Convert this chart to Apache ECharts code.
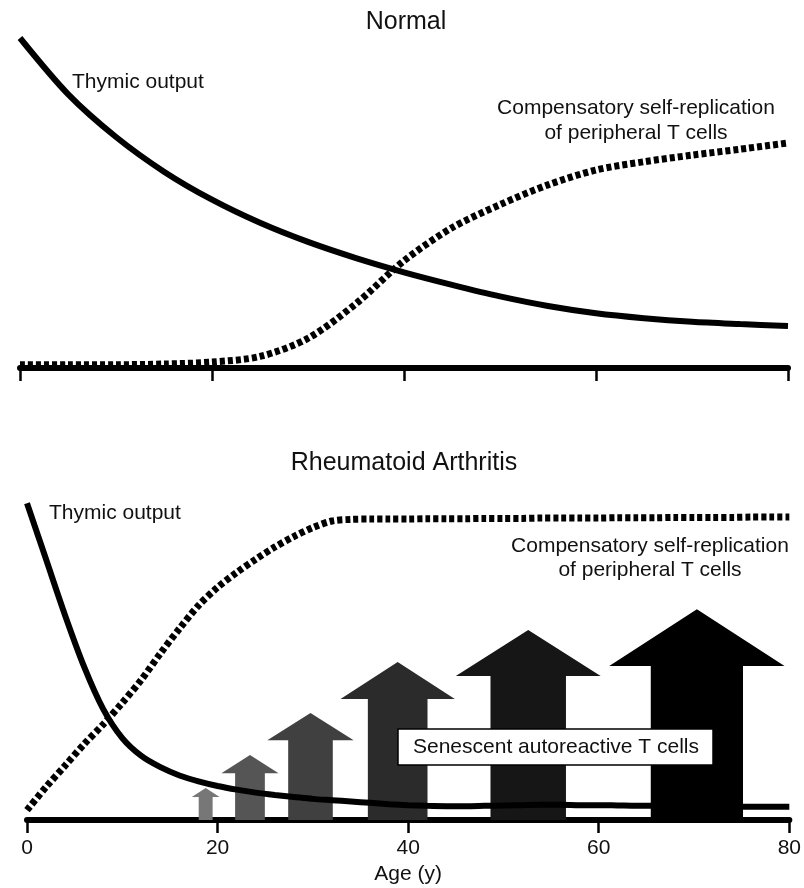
<!DOCTYPE html>
<html>
<head>
<meta charset="utf-8">
<script src="https://cdn.jsdelivr.net/npm/echarts@6/dist/echarts.min.js"></script>
<style>
  html, body { margin: 0; padding: 0; background: #fff; }
  #chart { width: 804px; height: 888px; }
</style>
</head>
<body>
<div id="chart"></div>
<script>
// ---- data (age in years, level in relative units 0-100) ----
const normalAge = [0, 5, 10, 15, 20, 25, 30, 35, 40, 45, 50, 55, 60, 65, 70, 75, 80];
const normalThymic = [100, 83, 70, 59.5, 51, 44, 38.2, 33.3, 29, 25.2, 21.7, 18.8, 16.6, 15.1, 14, 13.3, 12.7];
const normalReplication = [1, 1, 1, 1.2, 1.8, 3.5, 9, 19.5, 32.5, 42.5, 49.5, 55.5, 60, 62.5, 64.5, 66.3, 68.2];

const raAge = [0, 2, 4, 6, 8, 10, 12, 14, 16, 18, 20, 22, 24, 26, 28, 30, 32, 34, 36, 38, 40,
  42, 44, 46, 48, 50, 52, 54, 56, 58, 60, 62, 64, 66, 68, 70, 72, 74, 76, 78, 80];
const raThymic = [96, 79, 62, 46.4, 33.6, 24.8, 19.4, 16, 13.5, 11.7, 10.3, 9.2, 8.3, 7.6, 7, 6.4, 6, 5.6, 5.2, 4.8, 4.5,
  4.3, 4.2, 4.2, 4.3, 4.4, 4.5, 4.6, 4.6, 4.5, 4.5, 4.4, 4.3, 4.3, 4.2, 4.1, 4.1, 4, 4, 4, 4];
const raReplication = [3, 10, 16.5, 23, 29, 35.5, 42.5, 50.5, 58, 65, 70.5, 75, 79, 82.7, 85.9, 88.6, 90.6, 91.1, 91.2, 91.2, 91.2,
  91.3, 91.3, 91.3, 91.4, 91.4, 91.4, 91.5, 91.5, 91.5, 91.5, 91.6, 91.6, 91.6, 91.7, 91.7, 91.7, 91.7, 91.8, 91.8, 91.8];

// senescent autoreactive T cells (arrows): centre age, tip level, head base level
const arrowAge = [18.75, 23.4, 29.75, 38.9, 52.6, 70.3];
const arrowTip = [9.7, 19.7, 32.4, 47.9, 57.6, 63.9];
const arrowNeck = [7, 14.2, 24.2, 36.7, 43.6, 46.7];
// half widths in years
const arrowHeadHalf = [1.46, 3.0, 4.53, 6.0, 7.6, 9.2];
const arrowBodyHalf = [0.73, 1.56, 2.34, 3.13, 3.96, 4.84];

const ageTicks = [0, 20, 40, 60, 80];

// ---- chart ----
const myChart = echarts.init(document.getElementById('chart'));
const font = 'Liberation Sans, Arial, Helvetica, sans-serif';
const shades = ['#777777', '#555555', '#404040', '#2b2b2b', '#161616', '#000000'];

const zip = (xs, ys) => xs.map((x, i) => [x, ys[i]]);

function axisX(gridIndex, showLabel) {
  return {
    type: 'value', gridIndex: gridIndex, min: ageTicks[0], max: ageTicks[ageTicks.length - 1], interval: 20,
    axisLine: { show: true, lineStyle: { color: '#000', width: 6 } },
    axisTick: { show: true, length: 13, lineStyle: { color: '#000', width: 2.5 } },
    axisLabel: { show: showLabel, fontSize: 21, color: '#111', margin: 18, fontFamily: font },
    splitLine: { show: false },
    name: showLabel ? 'Age (y)' : '',
    nameLocation: 'middle', nameGap: 44,
    nameTextStyle: { fontSize: 21, color: '#111', fontFamily: font }
  };
}

function axisY(gridIndex) {
  return { type: 'value', gridIndex: gridIndex, min: 0, max: 100, show: false };
}

function solid(data, xi) {
  return {
    type: 'line', xAxisIndex: xi, yAxisIndex: xi, data: data, symbol: 'none',
    smooth: 0.3, z: 3, silent: true,
    lineStyle: { color: '#000', width: 6, cap: 'butt' }
  };
}

function dashed(data, xi) {
  return {
    type: 'line', xAxisIndex: xi, yAxisIndex: xi, data: data, symbol: 'none',
    smooth: 0.3, z: 3, silent: true,
    lineStyle: { color: '#000', width: 7, type: [5, 3], cap: 'butt' }
  };
}

const arrowData = arrowAge.map((a, i) => [a, arrowTip[i], arrowNeck[i], arrowHeadHalf[i], arrowBodyHalf[i], i]);

const option = {
  animation: false,
  backgroundColor: '#fff',
  grid: [
    { left: 20, right: 16, top: 38, height: 330 },
    { left: 27, right: 9, top: 490, height: 330 }
  ],
  xAxis: [axisX(0, false), axisX(1, true)],
  yAxis: [axisY(0), axisY(1)],
  series: [
    solid(zip(normalAge, normalThymic), 0),
    dashed(zip(normalAge, normalReplication), 0),
    {
      type: 'custom', xAxisIndex: 1, yAxisIndex: 1, z: 1, silent: true,
      data: arrowData,
      renderItem: function (params, api) {
        const x = api.value(0), tip = api.value(1), neck = api.value(2);
        const hh = api.value(3), bh = api.value(4);
        const pts = [
          api.coord([x - bh, 0]),
          api.coord([x - bh, neck]),
          api.coord([x - hh, neck]),
          api.coord([x, tip]),
          api.coord([x + hh, neck]),
          api.coord([x + bh, neck]),
          api.coord([x + bh, 0])
        ];
        return {
          type: 'polygon',
          shape: { points: pts },
          style: { fill: shades[api.value(5)] }
        };
      }
    },
    solid(zip(raAge, raThymic), 1),
    dashed(zip(raAge, raReplication), 1)
  ],
  graphic: [
    { type: 'text', x: 406, y: 22, z: 50,
      style: { text: 'Normal', font: '25px ' + font, fill: '#111', align: 'center', verticalAlign: 'middle' } },
    { type: 'text', x: 72, y: 82, z: 50,
      style: { text: 'Thymic output', font: '21px ' + font, fill: '#111', verticalAlign: 'middle' } },
    { type: 'text', x: 636, y: 121, z: 50,
      style: { text: 'Compensatory self-replication\nof peripheral T cells', font: '21px ' + font, lineHeight: 25,
        fill: '#111', align: 'center', verticalAlign: 'middle' } },
    { type: 'text', x: 404, y: 463, z: 50,
      style: { text: 'Rheumatoid Arthritis', font: '25px ' + font, fill: '#111', align: 'center', verticalAlign: 'middle' } },
    { type: 'text', x: 49, y: 513, z: 50,
      style: { text: 'Thymic output', font: '21px ' + font, fill: '#111', verticalAlign: 'middle' } },
    { type: 'text', x: 650, y: 558, z: 50,
      style: { text: 'Compensatory self-replication\nof peripheral T cells', font: '21px ' + font, lineHeight: 24,
        fill: '#111', align: 'center', verticalAlign: 'middle' } },
    { type: 'rect', z: 60, shape: { x: 398, y: 729, width: 315, height: 36 },
      style: { fill: '#fff', stroke: '#000', lineWidth: 1.5 } },
    { type: 'text', x: 556, y: 747, z: 61,
      style: { text: 'Senescent autoreactive T cells', font: '21px ' + font, fill: '#111', align: 'center', verticalAlign: 'middle' } }
  ]
};

myChart.setOption(option);
</script>
</body>
</html>
